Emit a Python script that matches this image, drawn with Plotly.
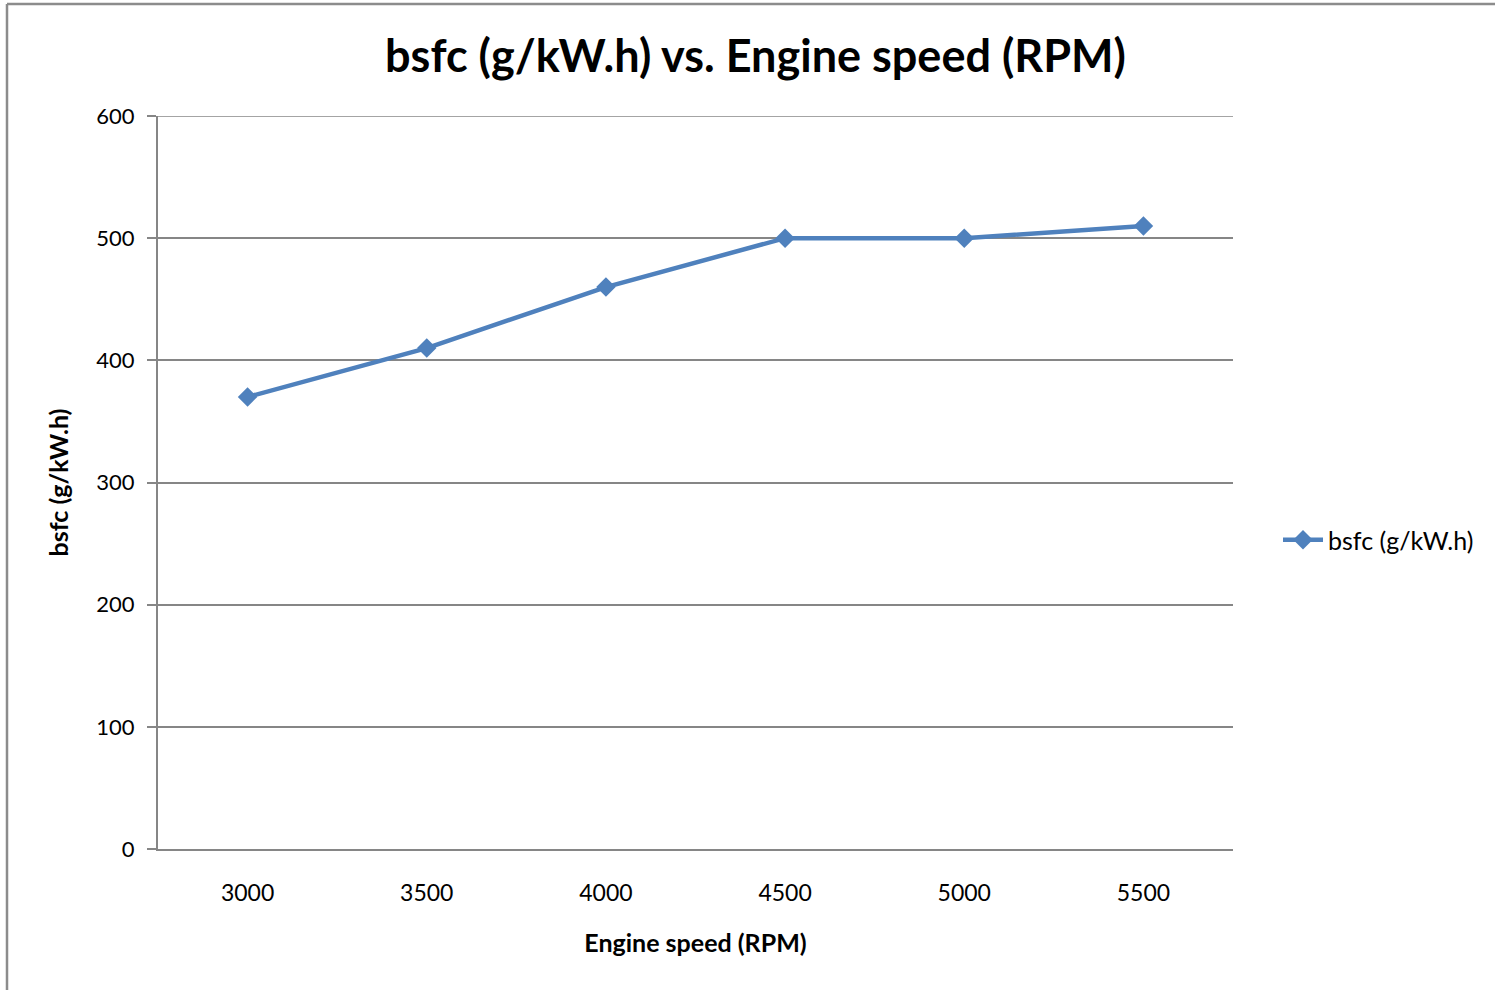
import plotly.graph_objects as go

# Engine test data
engine_speed = ["3000", "3500", "4000", "4500", "5000", "5500"]
bsfc = [370, 410, 460, 500, 500, 510]
y_ticks = [0, 100, 200, 300, 400, 500, 600]

W, H = 1495, 990
L, R, T, B = 158, 262, 116, 141
pw = W - L - R
ph = H - T - B

FONT = "Lato, 'Open Sans', sans-serif"
GRID = "#868686"

fig = go.Figure()
fig.add_trace(go.Scatter(
    x=engine_speed, y=bsfc, mode="lines+markers", name="bsfc (g/kW.h)",
    line=dict(color="#4F81BD", width=4.5),
    marker=dict(symbol="diamond", size=15, color="#4F81BD"),
))

fig.update_layout(
    width=W, height=H,
    margin=dict(l=L, r=R, t=T, b=B),
    paper_bgcolor="white", plot_bgcolor="white",
    font=dict(family=FONT, size=23, color="black"),
    title=dict(text="<b>bsfc (g/kW.h) vs. Engine speed (RPM)</b>",
               font=dict(size=45, family=FONT), x=(387 + 1124) / 2 / W,
               xanchor="center", y=1 - 56 / H, yanchor="middle"),
    showlegend=True,
    legend=dict(x=(1278 - L) / pw, xanchor="left", y=(H - B - 540) / ph,
                yanchor="middle", font=dict(size=25), bgcolor="rgba(0,0,0,0)",
                itemwidth=40),
    xaxis=dict(type="category", range=[-0.5, 5.5], showgrid=False,
               showline=True, linecolor=GRID, linewidth=2, ticks="",
               tickfont=dict(size=23), ticklabelstandoff=22,
               title=dict(text="<b>Engine speed (RPM)</b>", font=dict(size=25), standoff=30)),
    yaxis=dict(range=[0, 600], tickvals=y_ticks, showgrid=True, gridcolor=GRID,
               gridwidth=1.5, showline=True, linecolor=GRID, linewidth=2,
               ticks="outside", ticklen=9, tickcolor=GRID, tickwidth=2,
               tickfont=dict(size=22), ticklabelstandoff=8, zeroline=False,
               title=dict(text="<b>bsfc (g/kW.h)</b>", font=dict(size=25), standoff=21)),
)

# Top gridline at the axis maximum
fig.add_shape(type="line", xref="paper", yref="y", x0=0, x1=1,
              y0=y_ticks[-1], y1=y_ticks[-1], line=dict(color=GRID, width=1.5))

# Chart-area border (top and left edges visible)
fig.add_shape(type="line", xref="paper", yref="paper",
              x0=(7 - L) / pw, x1=(W + 5 - L) / pw,
              y0=(H - B - 4) / ph, y1=(H - B - 4) / ph,
              line=dict(color="#8C8C8C", width=2.5))
fig.add_shape(type="line", xref="paper", yref="paper",
              x0=(7 - L) / pw, x1=(7 - L) / pw,
              y0=(H - B - 4) / ph, y1=(H - B - H - 5) / ph,
              line=dict(color="#8C8C8C", width=2.5))

fig.write_html("out.html")
